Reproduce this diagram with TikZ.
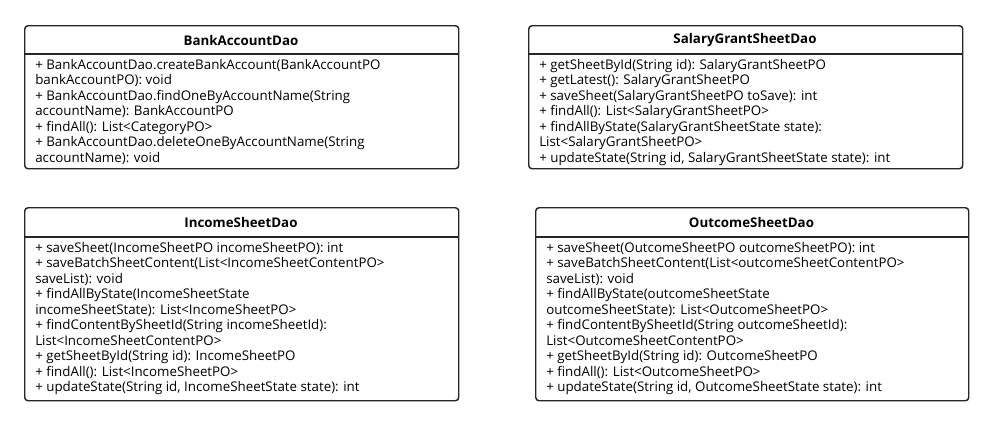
\documentclass[tikz,border=0pt]{standalone}
\usepackage{fontspec}
\setmainfont{Open Sans}
\begin{document}
\begin{tikzpicture}[x=0.75pt,y=-0.75pt,
  classbox/.style={draw=black!85,line width=1.1pt,rounded corners=2.5pt,inner sep=0pt,anchor=north west},
  title/.style={font=\fontsize{10}{12}\selectfont\bfseries,anchor=center,inner sep=0pt},
  body/.style={font=\fontsize{10}{11.6}\selectfont,align=left,anchor=north west,inner sep=0pt},
  sep/.style={draw=black!85,line width=0.9pt}]
\useasboundingbox (0,0) rectangle (993,425);
% BankAccountDao
\node[classbox,minimum width=325.5pt,minimum height=107.25pt] (bank) at (24,25) {};
\draw[sep] (24,54) -- (458,54);
\node[title] (bankT) at (241,40) {BankAccountDao};
\node[body] (bankB) at (35,59) {+ BankAccountDao.createBankAccount(BankAccountPO\\bankAccountPO): void\\+ BankAccountDao.findOneByAccountName(String\\accountName): BankAccountPO\\+ findAll(): List<CategoryPO>\\+ BankAccountDao.deleteOneByAccountName(String\\accountName): void};
% SalaryGrantSheetDao
\node[classbox,minimum width=325.5pt,minimum height=107.25pt] (salary) at (528,25) {};
\draw[sep] (528,54) -- (962,54);
\node[title] (salaryT) at (745,40) {SalaryGrantSheetDao};
\node[body] (salaryB) at (539,59) {+ getSheetById(String id): SalaryGrantSheetPO\\+ getLatest(): SalaryGrantSheetPO\\+ saveSheet(SalaryGrantSheetPO toSave): int\\+ findAll(): List<SalaryGrantSheetPO>\\+ findAllByState(SalaryGrantSheetState state):\\List<SalaryGrantSheetPO>\\+ updateState(String id, SalaryGrantSheetState state): int};
% IncomeSheetDao
\node[classbox,minimum width=325.5pt,minimum height=144.75pt] (income) at (24,207) {};
\draw[sep] (24,237) -- (458,237);
\node[title] (incomeT) at (241,222) {IncomeSheetDao};
\node[body] (incomeB) at (35,242) {+ saveSheet(IncomeSheetPO incomeSheetPO): int\\+ saveBatchSheetContent(List<IncomeSheetContentPO>\\saveList): void\\+ findAllByState(IncomeSheetState\\incomeSheetState): List<IncomeSheetPO>\\+ findContentBySheetId(String incomeSheetId):\\List<IncomeSheetContentPO>\\+ getSheetById(String id): IncomeSheetPO\\+ findAll(): List<IncomeSheetPO>\\+ updateState(String id, IncomeSheetState state): int};
% OutcomeSheetDao
\node[classbox,minimum width=324.75pt,minimum height=144.75pt] (outcome) at (535,207) {};
\draw[sep] (535,237) -- (968,237);
\node[title] (outcomeT) at (751.5,222) {OutcomeSheetDao};
\node[body] (outcomeB) at (546,242) {+ saveSheet(OutcomeSheetPO outcomeSheetPO): int\\+ saveBatchSheetContent(List<outcomeSheetContentPO>\\saveList): void\\+ findAllByState(outcomeSheetState\\outcomeSheetState): List<OutcomeSheetPO>\\+ findContentBySheetId(String outcomeSheetId):\\List<OutcomeSheetContentPO>\\+ getSheetById(String id): OutcomeSheetPO\\+ findAll(): List<OutcomeSheetPO>\\+ updateState(String id, OutcomeSheetState state): int};
\end{tikzpicture}
\end{document}
